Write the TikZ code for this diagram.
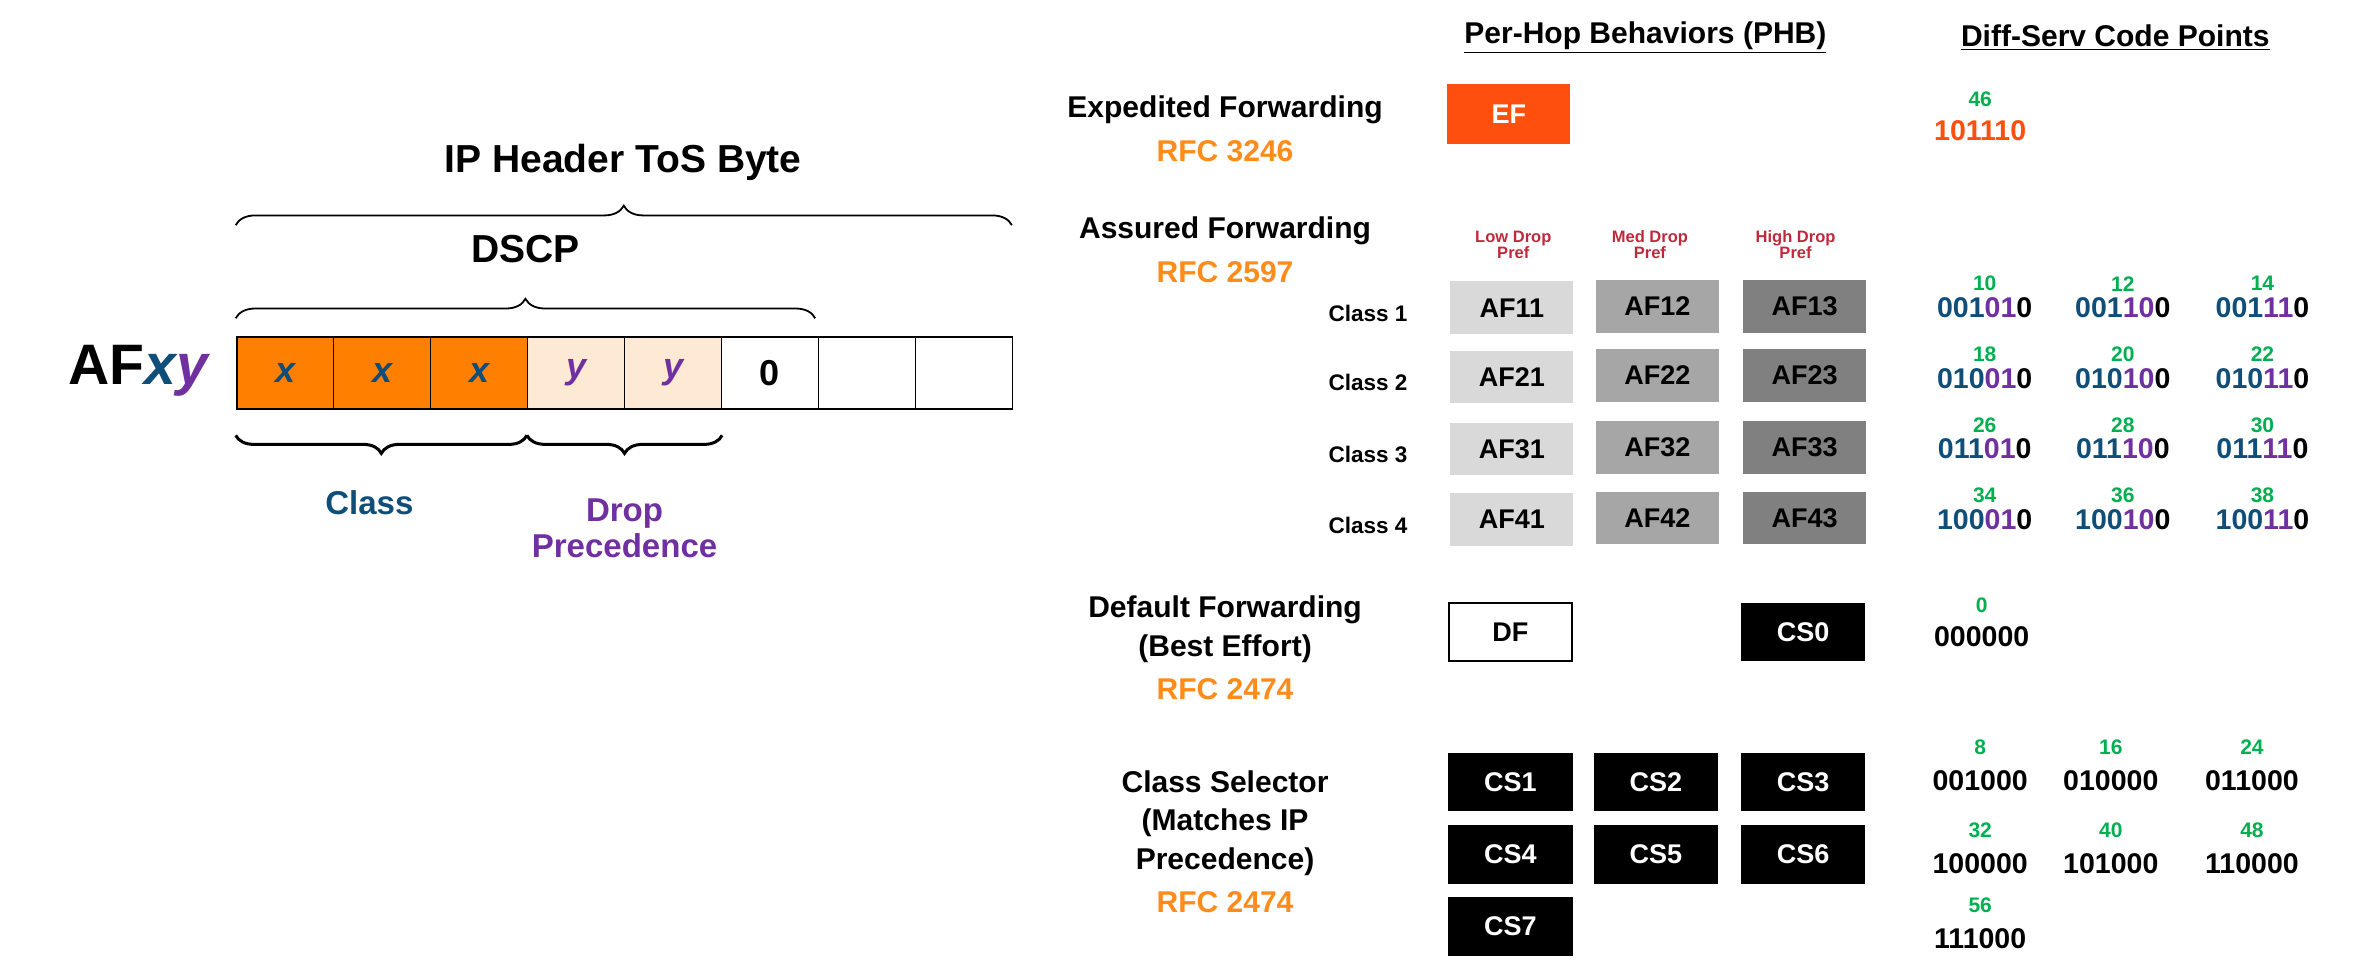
\documentclass[tikz,border=0pt]{standalone}
\usepackage{fontspec}
\setmainfont{Liberation Sans}
\usetikzlibrary{decorations.pathreplacing}
\definecolor{cblue}{HTML}{104E7A}
\definecolor{cpurp}{HTML}{7030A0}
\definecolor{corange}{HTML}{FF8000}
\definecolor{clight}{HTML}{FDE9D4}
\definecolor{crfc}{HTML}{FF8C1A}
\definecolor{cef}{HTML}{FF4F0F}
\definecolor{cgreen}{HTML}{00B050}
\definecolor{cred}{HTML}{C0283C}
\definecolor{gA}{HTML}{D9D9D9}
\definecolor{gB}{HTML}{A6A6A6}
\definecolor{gC}{HTML}{808080}
\newcommand\cpt[3]{{\color{cblue}#1}{\color{cpurp}#2}#3}
\tikzset{
  fs/.style={font=\fontsize{#1}{#1}\selectfont\bfseries},
  cell/.style={draw,line width=1.2pt,minimum width=64.6pt,minimum height=48pt,inner sep=0pt,anchor=north west,fs=24},
  lbl/.style={fs=20,align=center},
  rfc/.style={fs=20,text=crfc},
  afbox/.style={minimum width=82pt,minimum height=35pt,inner sep=0pt,fs=18},
  csbox/.style={fill=black,text=white,minimum width=83pt,minimum height=39pt,inner sep=0pt,fs=18},
  num/.style={fs=14,text=cgreen},
  code/.style={fs=19},
  brc/.style={decorate,line width=1.2pt},
  hdr/.style={fs=20},
}
\begin{document}
\begin{tikzpicture}[x=1pt,y=-1pt]
\useasboundingbox (0,0) rectangle (1568,652);
% left diagram
\node[fs=26] (iph) at (415,108) {IP Header ToS Byte};
\draw[brc,decoration={brace,amplitude=13pt}] (157,150) -- (674,150);
\node[fs=26] (dscp) at (350,166) {DSCP};
\draw[brc,decoration={brace,amplitude=13pt}] (157,212) -- (543,212);
\node[fs=38,anchor=east] (afxy) at (142,247) {AF\textcolor{cblue}{\itshape x}\textcolor{cpurp}{\itshape y}};
\foreach \i/\f/\t in {0/corange/{\color{cblue}\itshape x},1/corange/{\color{cblue}\itshape x},2/corange/{\color{cblue}\itshape x},3/clight/{\color{cpurp}\itshape y},4/clight/{\color{cpurp}\itshape y},5/white/0,6/white/{},7/white/{}}
  \node[cell,fill=\f] (b\i) at (157+\i*64.6,224) {\t};
\draw[brc,line width=2pt,decoration={brace,amplitude=12pt}] (351,290) -- (157,290);
\draw[brc,line width=2pt,decoration={brace,amplitude=12pt}] (481,290) -- (351,290);
\node[fs=22,text=cblue] (cls) at (246,335) {Class};
\node[fs=22,text=cpurp,align=center] (drp) at (416,352) {Drop\\[2pt]Precedence};
% headers
\node[hdr] (h1) at (1096,25) {\underline{Per-Hop Behaviors (PHB)}};
\node[hdr] (h2) at (1409,25) {\underline{Diff-Serv Code Points}};
% EF
\node[lbl] (ef) at (816,73) {Expedited Forwarding};
\node[rfc] (ef2) at (816,101) {RFC 3246};
\node[fill=cef,text=white,minimum width=82pt,minimum height=40pt,inner sep=0pt,fs=18] (efb) at (1005,76) {EF};
\node[num] (n46) at (1319,66) {46};
\node[code,text=cef] (c46) at (1319,87) {101110};
% AF
\node[lbl] (af) at (816,154) {Assured Forwarding};
\node[rfc] (af2) at (816,181) {RFC 2597};
\node[fs=11,text=cred,align=center] (p1) at (1008,163) {Low Drop\\Pref};
\node[fs=11,text=cred,align=center] (p2) at (1099,163) {Med Drop\\Pref};
\node[fs=11,text=cred,align=center] (p3) at (1196,163) {High Drop\\Pref};
\foreach \r/\y in {1/205,2/251,3/299,4/346}{
  \node[fs=15,anchor=east] (cl\r) at (941,\y+4) {Class \r};
  \node[afbox,fill=gA] (a\r1) at (1007,\y) {AF\r1};
  \node[afbox,fill=gB] (a\r2) at (1104,\y-1) {AF\r2};
  \node[afbox,fill=gC] (a\r3) at (1202,\y-1) {AF\r3};
}
\foreach \r/\y/\a/\b/\c/\p/\q/\s in {1/189/10/12/14/001/001/001,2/236/18/20/22/010/010/010,3/283/26/28/30/011/011/011,4/330/34/36/38/100/100/100}{
  \node[num] (na\r) at (1322,\y) {\a};
  \node[num] (nb\r) at (1414,\y) {\b};
  \node[num] (nc\r) at (1507,\y) {\c};
  \node[code] (ca\r) at (1322,\y+16) {\cpt{\p}{01}{0}};
  \node[code] (cb\r) at (1414,\y+16) {\cpt{\p}{10}{0}};
  \node[code] (cc\r) at (1507,\y+16) {\cpt{\p}{11}{0}};
}
% DF
\node[lbl] (df) at (816,406) {Default Forwarding};
\node[lbl] (df2) at (816,432) {(Best Effort)};
\node[rfc] (df3) at (816,459) {RFC 2474};
\node[draw,line width=1.2pt,minimum width=82pt,minimum height=39pt,inner sep=0pt,fs=18] (dfb) at (1006,421) {DF};
\node[csbox] (cs0) at (1201,421) {CS0};
\node[num] (n0) at (1320,403) {0};
\node[code] (c0) at (1320,424) {000000};
% CS
\node[lbl] (cs) at (816,521) {Class Selector};
\node[lbl] (csb) at (816,548) {(Matches IP};
\node[lbl] (csc) at (816,574) {Precedence)};
\node[rfc] (csd) at (816,601) {RFC 2474};
\node[csbox] (cs1) at (1006,521) {CS1};
\node[csbox] (cs2) at (1103,521) {CS2};
\node[csbox] (cs3) at (1201,521) {CS3};
\node[csbox] (cs4) at (1006,569) {CS4};
\node[csbox] (cs5) at (1103,569) {CS5};
\node[csbox] (cs6) at (1201,569) {CS6};
\node[csbox] (cs7) at (1006,617) {CS7};
\foreach \n/\c/\x/\y in {8/001000/1319/498,16/010000/1406/498,24/011000/1500/498,32/100000/1319/553,40/101000/1406/553,48/110000/1500/553,56/111000/1319/603}{
  \node[num] (n\n) at (\x,\y) {\n};
  \node[code] (c\n) at (\x,\y+22) {\c};
}
\end{tikzpicture}
\end{document}
